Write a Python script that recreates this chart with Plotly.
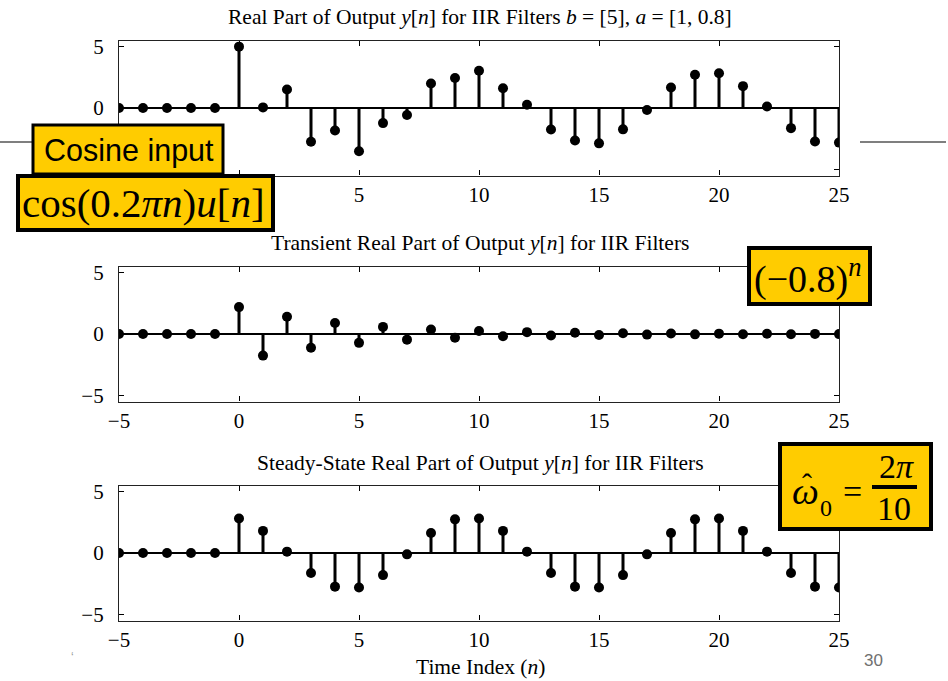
import plotly.graph_objects as go
from plotly.subplots import make_subplots

# ---------------- data ----------------
n = list(range(-5, 26))
y_total = [0, 0, 0, 0, 0,
           5.00, 0.05, 1.51, -2.75, -1.84, -3.53, -1.23, -0.57, 2.00, 2.45,
           3.04, 1.61, 0.26, -1.75, -2.65, -2.88, -1.74, -0.16, 1.67, 2.71,
           2.83, 1.78, 0.12, -1.64, -2.73, -2.82]
y_transient = [0, 0, 0, 0, 0,
               2.19, -1.76, 1.40, -1.12, 0.90, -0.72, 0.58, -0.46, 0.37, -0.30,
               0.24, -0.19, 0.15, -0.12, 0.10, -0.08, 0.06, -0.05, 0.04, -0.03,
               0.03, -0.02, 0.02, -0.02, 0.01, -0.01]
y_steady = [0, 0, 0, 0, 0,
            2.81, 1.80, 0.11, -1.63, -2.74, -2.81, -1.80, -0.11, 1.63, 2.74,
            2.81, 1.80, 0.11, -1.63, -2.74, -2.81, -1.80, -0.11, 1.63, 2.74,
            2.81, 1.80, 0.11, -1.63, -2.74, -2.81]

titles = ["Real Part of Output <i>y</i>[<i>n</i>] for IIR Filters <i>b</i> = [5], <i>a</i> = [1, 0.8]",
          "Transient Real Part of Output <i>y</i>[<i>n</i>] for IIR Filters",
          "Steady-State Real Part of Output <i>y</i>[<i>n</i>] for IIR Filters"]
x_ticks = [-5, 0, 5, 10, 15, 20, 25]
y_ticks = [-5, 0, 5]
x_label = "Time Index (<i>n</i>)"

W, H = 948, 681
SERIF = "Liberation Serif"
SANS = "Liberation Sans"

def PX(x):
    return x / W

def PY(y):
    return 1 - y / H

fig = make_subplots(rows=3, cols=1)

series = [y_total, y_transient, y_steady]
for i, ys in enumerate(series, start=1):
    sx, sy = [], []
    for xv, yv in zip(n, ys):
        sx += [xv, xv, None]
        sy += [0, yv, None]
    fig.add_trace(go.Scatter(x=sx, y=sy, mode="lines",
                             line=dict(color="black", width=3),
                             hoverinfo="skip", showlegend=False), row=i, col=1)
    fig.add_trace(go.Scatter(x=n, y=ys, mode="markers",
                             marker=dict(color="black", size=10),
                             showlegend=False), row=i, col=1)

# subplot frames (pixel positions)
frames = [(40.5, 175.5), (266.5, 401.5), (485.5, 620.5)]
x_dom = [PX(119), PX(839)]
for i, (t, b) in enumerate(frames, start=1):
    xa = "xaxis" if i == 1 else f"xaxis{i}"
    ya = "yaxis" if i == 1 else f"yaxis{i}"
    fig.layout[xa].update(domain=x_dom, range=[-5, 25], tickvals=x_ticks,
                          ticks="inside", ticklen=5, tickwidth=1, tickcolor="black",
                          showline=True, mirror="allticks", linecolor="#222", linewidth=1.3,
                          showgrid=False, zeroline=False, automargin=False,
                          tickfont=dict(family=SERIF, size=21, color="black"),
                          ticklabelstandoff=0)
    fig.layout[ya].update(domain=[PY(b), PY(t)], range=[-5.5, 5.5], tickvals=y_ticks,
                          ticks="inside", ticklen=5, tickwidth=1, tickcolor="black",
                          showline=True, mirror="allticks", linecolor="#222", linewidth=1.3,
                          showgrid=False, zeroline=True, zerolinecolor="black",
                          zerolinewidth=1.5, automargin=False,
                          tickfont=dict(family=SERIF, size=21, color="black"),
                          ticklabelstandoff=10)

annotations = []
title_y = [17, 243, 463]
for t, ty in zip(titles, title_y):
    annotations.append(dict(text=t, x=PX(480), y=PY(ty), xref="paper", yref="paper",
                            xanchor="center", yanchor="middle", showarrow=False,
                            font=dict(family=SERIF, size=21.5, color="black")))
annotations.append(dict(text=x_label, x=PX(480), y=PY(667), xref="paper", yref="paper",
                        xanchor="center", yanchor="middle", showarrow=False,
                        font=dict(family=SERIF, size=21.5, color="black")))
annotations.append(dict(text="30", x=PX(873), y=PY(660), xref="paper", yref="paper",
                        xanchor="center", yanchor="middle", showarrow=False,
                        font=dict(family=SANS, size=17, color="#707070")))
annotations.append(dict(text="‘", x=PX(72), y=PY(657), xref="paper", yref="paper",
                        xanchor="center", yanchor="middle", showarrow=False,
                        font=dict(family=SANS, size=12, color="#999999")))

YEL = "#FFCC00"
shapes = []
# stray slide line
shapes.append(dict(type="line", xref="paper", yref="paper", x0=PX(0), x1=PX(40),
                   y0=PY(142), y1=PY(142), line=dict(color="#555", width=1.5), layer="above"))
shapes.append(dict(type="line", xref="paper", yref="paper", x0=PX(860), x1=PX(946),
                   y0=PY(142), y1=PY(142), line=dict(color="#555", width=1.5), layer="above"))

def box(x0, y0, x1, y1, lw):
    shapes.append(dict(type="rect", xref="paper", yref="paper",
                       x0=PX(x0), x1=PX(x1), y0=PY(y1), y1=PY(y0),
                       fillcolor=YEL, line=dict(color="black", width=lw), layer="above"))

box(33, 125, 223, 174, 3)
box(18, 176, 273, 230, 4)
box(749, 248, 870, 304, 4)
box(780, 444, 931, 529, 4)
# fraction bar
shapes.append(dict(type="line", xref="paper", yref="paper", x0=PX(872), x1=PX(917),
                   y0=PY(487), y1=PY(487), line=dict(color="black", width=4), layer="above"))

def txt(s, x, y, size, family=SERIF, xanchor="center"):
    annotations.append(dict(text=s, x=PX(x), y=PY(y), xref="paper", yref="paper",
                            xanchor=xanchor, yanchor="middle", showarrow=False,
                            font=dict(family=family, size=size, color="black")))

txt("Cosine input", 129, 151, 30.5, SANS)
txt("cos(0.2<i>πn</i>)<i>u</i>[<i>n</i>]", 143, 203, 41)
txt("(−0.8)<sup><i>n</i></sup>", 808, 276, 38)
txt("<i>ω</i>", 805, 491, 38)
txt("ˆ", 807, 483, 30)
txt("0", 826, 508, 24)
txt("=", 852, 492, 34)
txt("2<i>π</i>", 896, 466, 34)
txt("10", 894, 508, 34)

fig.update_layout(width=W, height=H, margin=dict(l=0, r=0, t=0, b=0),
                  paper_bgcolor="white", plot_bgcolor="white",
                  annotations=annotations, shapes=shapes, showlegend=False)

fig.write_html("out.html", config={"displayModeBar": False},
               post_script="document.body.style.margin='0';")
